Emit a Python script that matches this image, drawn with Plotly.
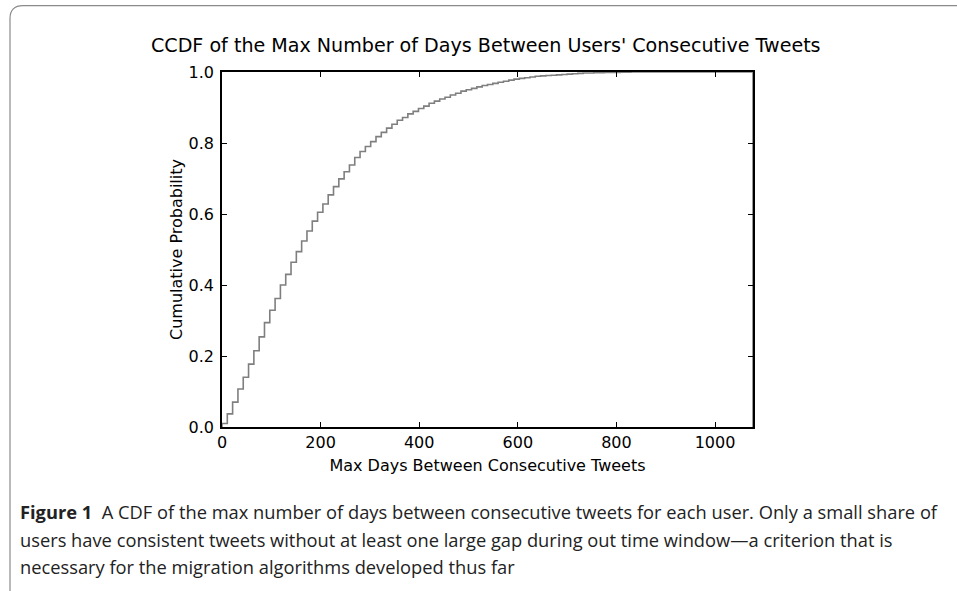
import numpy as np
import plotly.graph_objects as go

# ---- data ----
MAX_DAYS = 1077          # right end of the histogram range
N_BINS = 100
cum_prob = [
    0.010, 0.037, 0.070, 0.107, 0.140, 0.177, 0.215, 0.254, 0.294, 0.329,
    0.362, 0.400, 0.430, 0.464, 0.494, 0.524, 0.552, 0.580, 0.605, 0.628,
    0.654, 0.677, 0.699, 0.719, 0.738, 0.759, 0.776, 0.790, 0.804, 0.818,
    0.830, 0.842, 0.853, 0.864, 0.872, 0.882, 0.889, 0.897, 0.904, 0.912,
    0.918, 0.924, 0.929, 0.935, 0.940, 0.946, 0.950, 0.954, 0.958, 0.962,
    0.965, 0.968, 0.971, 0.974, 0.977, 0.980, 0.982, 0.984, 0.986, 0.988,
    0.989, 0.990, 0.991, 0.992, 0.993, 0.994, 0.995, 0.996, 0.997, 0.997,
    0.998, 0.998, 0.999, 0.999, 0.999, 0.9995, 0.9995, 1.0, 1.0, 1.0,
    1.0, 1.0, 1.0, 1.0, 1.0, 1.0, 1.0, 1.0, 1.0, 1.0,
    1.0, 1.0, 1.0, 1.0, 1.0, 1.0, 1.0, 1.0, 1.0, 1.0,
]
x_ticks = [0, 200, 400, 600, 800, 1000]
y_ticks = [0.0, 0.2, 0.4, 0.6, 0.8, 1.0]

title_text = "CCDF of the Max Number of Days Between Users' Consecutive Tweets"
x_title = "Max Days Between Consecutive Tweets"
y_title = "Cumulative Probability"
caption_lines = [
    "<b>Figure 1</b>  A CDF of the max number of days between consecutive tweets for each user. Only a small share of",
    "users have consistent tweets without at least one large gap during out time window\u2014a criterion that is",
    "necessary for the migration algorithms developed thus far",
]

# ---- step outline (like a cumulative step histogram) ----
edges = np.linspace(0, MAX_DAYS, N_BINS + 1)
xs = [0.0, 0.0] + list(edges[1:]) + [MAX_DAYS]
ys = [0.0, cum_prob[0]] + list(cum_prob[1:]) + [cum_prob[-1], 0.0]

# ---- layout geometry (pixels) ----
W, H = 957, 591
L, R, T, B = 222, 753, 71.5, 427
def px(xp):
    return (xp - L) / (R - L)
def py(yp):
    return (B - yp) / (B - T)

fig = go.Figure()
fig.add_trace(go.Scatter(
    x=xs, y=ys, mode="lines", line=dict(color="#7f7f7f", width=1.6, shape="hv"),
    hoverinfo="skip", showlegend=False,
))

axis_common = dict(
    showgrid=False, zeroline=False, showline=True, linecolor="black", linewidth=1.5,
    mirror="ticks", ticks="inside", ticklen=5, tickwidth=1.3, tickcolor="black",
    tickfont=dict(family="DejaVu Sans", size=16, color="black"),
)
fig.update_xaxes(range=[0, MAX_DAYS], tickvals=x_ticks, ticklabelstandoff=0, **axis_common,
                 title=dict(text=x_title, standoff=9,
                            font=dict(family="DejaVu Sans", size=16, color="black")))
fig.update_yaxes(range=[0, 1], tickvals=y_ticks, tickformat=".1f", ticklabelstandoff=3,
                 **axis_common,
                 title=dict(text=y_title, standoff=2,
                            font=dict(family="DejaVu Sans", size=16, color="black")))

annotations = [
    dict(text=title_text, x=px(486), y=py(45), xref="paper", yref="paper",
         showarrow=False, xanchor="center", yanchor="middle",
         font=dict(family="DejaVu Sans", size=19.1, color="black")),
]
cap_y = [512, 540, 567]
for line, yy in zip(caption_lines, cap_y):
    annotations.append(dict(text=line, x=px(18), y=py(yy), xref="paper", yref="paper",
                            showarrow=False, xanchor="left", yanchor="middle",
                            font=dict(family="Open Sans", size=18.3, color="#222222")))

border_path = (f"M {px(10)},{py(600)} L {px(10)},{py(18)} "
               f"Q {px(10)},{py(5)} {px(23)},{py(5)} L {px(970)},{py(5)}")

fig.update_layout(
    width=W, height=H, autosize=False,
    margin=dict(l=L, r=W - R, t=T, b=H - B, pad=0),
    paper_bgcolor="white", plot_bgcolor="white",
    annotations=annotations,
    shapes=[dict(type="path", path=border_path, xref="paper", yref="paper",
                 line=dict(color="#8a8a8a", width=1.2), layer="above")],
)

fig.write_html("out.html", config={"displayModeBar": False},
               post_script="document.body.style.margin='0px';")
